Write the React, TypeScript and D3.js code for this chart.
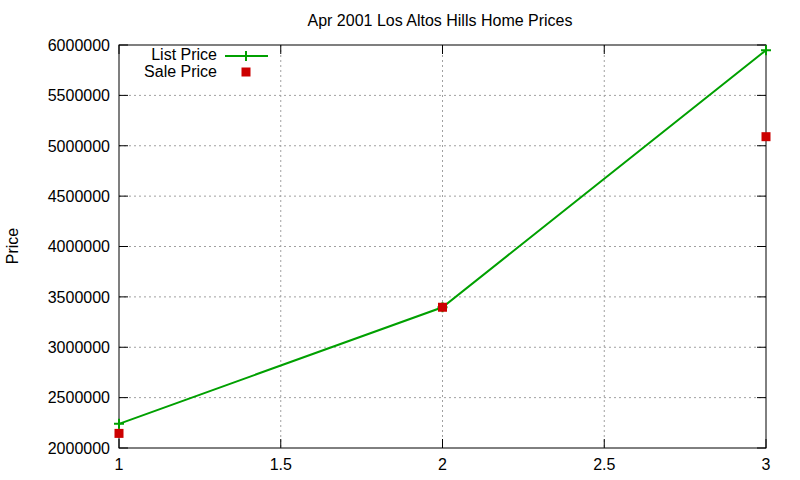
import React from "react";
import * as d3 from "d3";

const xValues = [1, 2, 3];
const listPrice = [2240000, 3397000, 5948000];
const salePrice = [2145000, 3397000, 5090000];
const yTicks = [2000000, 2500000, 3000000, 3500000, 4000000, 4500000, 5000000, 5500000, 6000000];
const xTicks = [1, 1.5, 2, 2.5, 3];
const title = "Apr 2001 Los Altos Hills Home Prices";

const W = 800, H = 480;
const L = 119, R = 766, T = 45, B = 448;

export default function App() {
  const x = d3.scaleLinear().domain([1, 3]).range([L, R]);
  const y = d3.scaleLinear().domain([2000000, 6000000]).range([B, T]);
  const line = d3.line<number>().x((_, i) => x(xValues[i])).y((d) => y(d));
  const font = "'Liberation Sans', Arial, sans-serif";
  const green = "#00a000";
  const red = "#cc0000";
  const fs = 16;
  return (
    <svg width={W} height={H} style={{ position: "absolute", left: 0, top: 0, background: "#fff" }} fontFamily={font}>
      <rect width={W} height={H} fill="#fff" />
      {/* grid */}
      {yTicks.slice(1, -1).map((t) => (
        <line key={"gy" + t} x1={L} x2={R} y1={y(t)} y2={y(t)} stroke="#a0a0a0" strokeDasharray="2,3" />
      ))}
      {xTicks.slice(1, -1).map((t) => (
        <line key={"gx" + t} x1={x(t)} x2={x(t)} y1={T} y2={B} stroke="#a0a0a0" strokeDasharray="2,3" />
      ))}
      {/* ticks */}
      {yTicks.map((t) => (
        <g key={"ty" + t}>
          <line x1={L} x2={L + 9} y1={y(t)} y2={y(t)} stroke="#000" />
          <line x1={R - 9} x2={R} y1={y(t)} y2={y(t)} stroke="#000" />
          <text x={110} y={y(t)} dy="0.36em" textAnchor="end" fontSize={fs}>{t}</text>
        </g>
      ))}
      {xTicks.map((t) => (
        <g key={"tx" + t}>
          <line x1={x(t)} x2={x(t)} y1={B} y2={B - 9} stroke="#000" />
          <line x1={x(t)} x2={x(t)} y1={T} y2={T + 9} stroke="#000" />
          <text x={x(t)} y={B + 16} dy="0.36em" textAnchor="middle" fontSize={fs}>{t}</text>
        </g>
      ))}
      <rect x={L} y={T} width={R - L} height={B - T} fill="none" stroke="#000" />
      {/* title and axis label */}
      <text x={440} y={20} dy="0.36em" textAnchor="middle" fontSize={fs}>{title}</text>
      <text transform={`translate(12,246) rotate(-90)`} dy="0.36em" textAnchor="middle" fontSize={fs}>Price</text>
      {/* series */}
      <path d={line(listPrice) || ""} fill="none" stroke={green} strokeWidth={2} />
      {listPrice.map((v, i) => (
        <path key={"lp" + i} d={`M${x(xValues[i]) - 5},${y(v)}h10M${x(xValues[i])},${y(v) - 5}v10`} stroke={green} strokeWidth={2} />
      ))}
      {salePrice.map((v, i) => (
        <rect key={"sp" + i} x={x(xValues[i]) - 4.5} y={y(v) - 4.5} width={9} height={9} fill={red} />
      ))}
      {/* legend */}
      <text x={217} y={55} dy="0.34em" textAnchor="end" fontSize={fs}>List Price</text>
      <line x1={225} x2={268} y1={56} y2={56} stroke={green} strokeWidth={2} />
      <path d={`M241,56h10M246,51v10`} stroke={green} strokeWidth={2} />
      <text x={217} y={72} dy="0.34em" textAnchor="end" fontSize={fs}>Sale Price</text>
      <rect x={241.5} y={67.5} width={9} height={9} fill={red} />
    </svg>
  );
}
